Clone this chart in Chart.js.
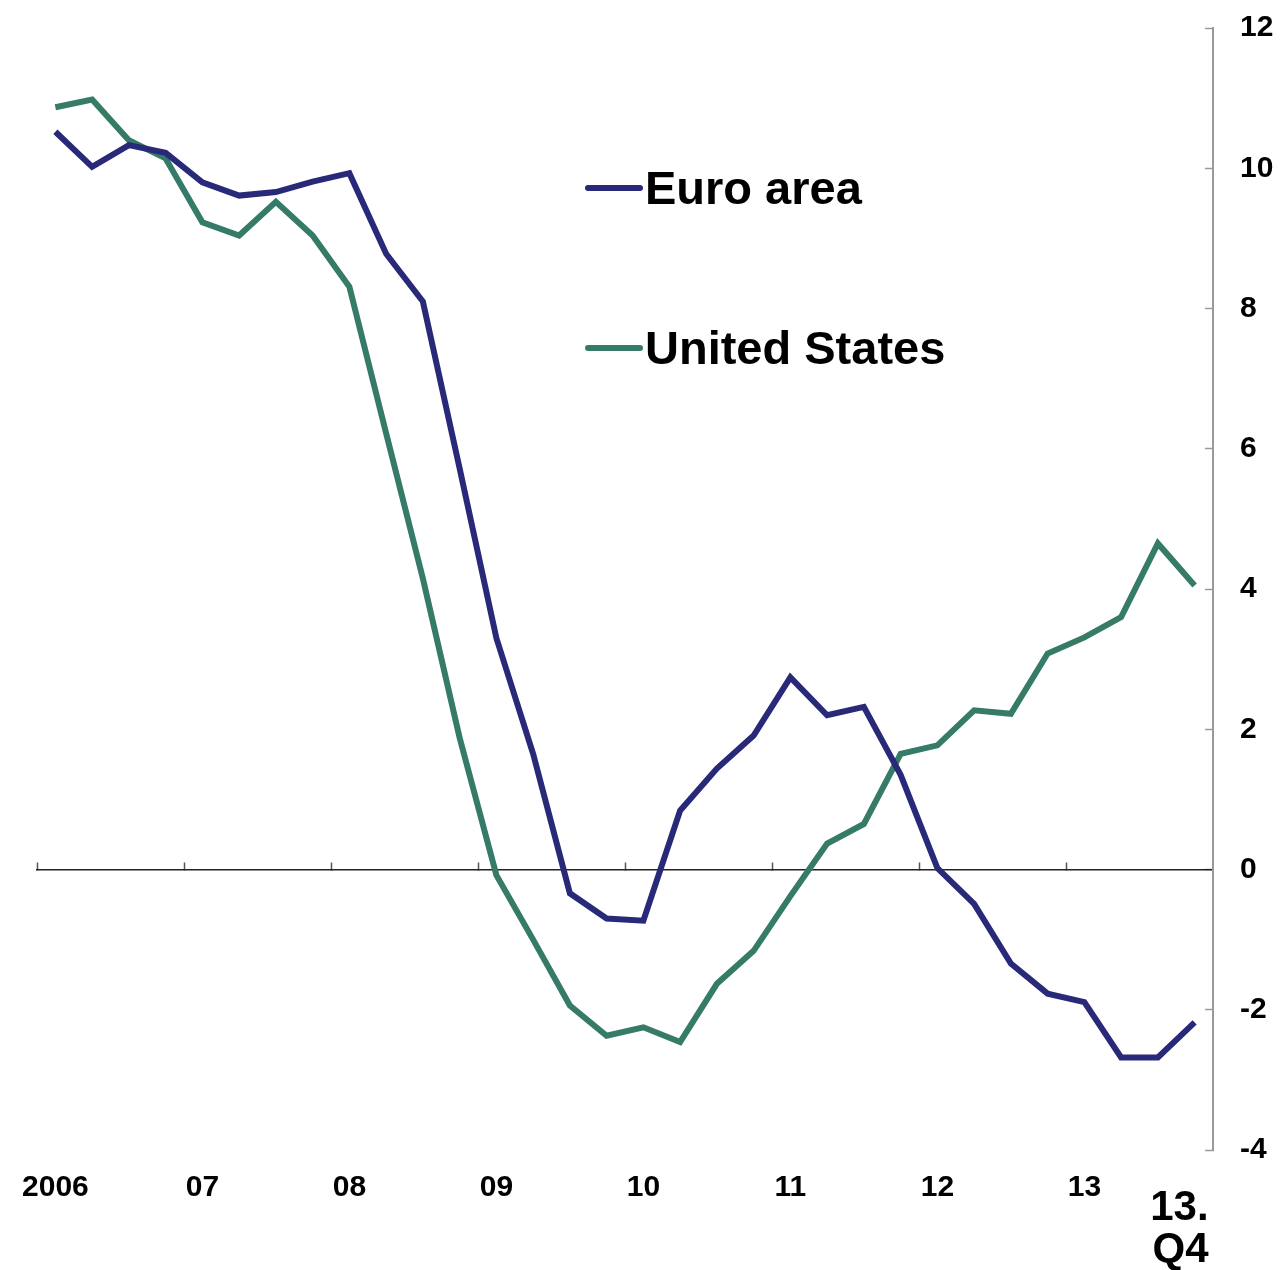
<!DOCTYPE html>
<html>
<head>
<meta charset="utf-8">
<script src="https://cdn.jsdelivr.net/npm/chart.js@4.4.1/dist/chart.umd.min.js"></script>
<style>
  html, body { margin: 0; padding: 0; background: #fff; }
  #wrap { position: relative; width: 1283px; height: 1270px; }
  #legend { position: absolute; left: 585px; top: 0; font-family: 'Liberation Sans', Arial, sans-serif; font-weight: bold; font-size: 47px; color: #000; }
  .item { position: absolute; left: 0; display: flex; align-items: center; white-space: nowrap; height: 54px; line-height: 54px; }
  .swatch { width: 58px; height: 6px; border-radius: 3px; margin-right: 2px; }
</style>
</head>
<body>
<div id="wrap">
  <canvas id="c"></canvas>
  <div id="legend"></div>
</div>
<script>
// ---- Data ----
const quarters = [
  '2006 Q1','2006 Q2','2006 Q3','2006 Q4',
  '2007 Q1','2007 Q2','2007 Q3','2007 Q4',
  '2008 Q1','2008 Q2','2008 Q3','2008 Q4',
  '2009 Q1','2009 Q2','2009 Q3','2009 Q4',
  '2010 Q1','2010 Q2','2010 Q3','2010 Q4',
  '2011 Q1','2011 Q2','2011 Q3','2011 Q4',
  '2012 Q1','2012 Q2','2012 Q3','2012 Q4',
  '2013 Q1','2013 Q2','2013 Q3','2013 Q4'
];
const yearTickLabels = ['2006', '07', '08', '09', '10', '11', '12', '13'];
const endLabel = ['13.', 'Q4'];
const seriesNames = ['Euro area', 'United States'];
const euroArea = [
  10.52, 10.02, 10.33, 10.22,
  9.80, 9.61, 9.66, 9.81,
  9.93, 8.78, 8.10, 5.72,
  3.30, 1.65, -0.34, -0.70,
  -0.73, 0.84, 1.44, 1.91,
  2.74, 2.20, 2.32, 1.35,
  0.02, -0.49, -1.34, -1.77,
  -1.89, -2.68, -2.68, -2.18
];
const unitedStates = [
  10.87, 10.98, 10.40, 10.14,
  9.23, 9.04, 9.52, 9.04,
  8.31, 6.22, 4.15, 1.88,
  -0.08, -1.00, -1.94, -2.37,
  -2.25, -2.46, -1.63, -1.16,
  -0.38, 0.37, 0.65, 1.65,
  1.77, 2.27, 2.22, 3.08,
  3.31, 3.60, 4.65, 4.05
];
const yMin = -4, yMax = 12, yStep = 2;

const colors = ['#29297a', '#367a68'];
const FONT = "'Liberation Sans', Arial, sans-serif";

const endLabelPlugin = {
  id: 'endLabel',
  afterDraw(chart) {
    const xs = chart.scales.x;
    const ctx = chart.ctx;
    const px = xs.getPixelForValue(quarters.length - 1) + 14;
    ctx.save();
    ctx.font = "bold 42px " + FONT;
    ctx.fillStyle = '#000';
    ctx.textAlign = 'right';
    ctx.textBaseline = 'middle';
    ctx.fillText(endLabel[0], px, 1208);
    ctx.fillText(endLabel[1], px, 1250);
    ctx.restore();
  }
};

const chart = new Chart(document.getElementById('c'), {
  type: 'line',
  data: {
    labels: quarters,
    datasets: [
      { label: seriesNames[0], data: euroArea, borderColor: colors[0], backgroundColor: colors[0], borderWidth: 6, pointRadius: 0, tension: 0, xAxisID: 'x', yAxisID: 'y' },
      { label: seriesNames[1], data: unitedStates, borderColor: colors[1], backgroundColor: colors[1], borderWidth: 6, pointRadius: 0, tension: 0, xAxisID: 'x', yAxisID: 'y' }
    ]
  },
  options: {
    responsive: true,
    maintainAspectRatio: false,
    animation: false,
    layout: { padding: { left: 37, top: 28, right: 0, bottom: 0 } },
    plugins: { legend: { display: false }, tooltip: { enabled: false } },
    scales: {
      x: {
        type: 'category',
        position: 'bottom',
        offset: true,
        grid: { display: false, drawTicks: false },
        border: { display: false },
        ticks: {
          autoSkip: false, maxRotation: 0, minRotation: 0,
          padding: 20,
          color: '#000',
          font: { family: FONT, size: 30, weight: 'bold' },
          callback: (v, i) => (i % 4 === 0 ? yearTickLabels[i / 4] : '')
        },
        afterFit: (s) => { s.height = 120; }
      },
      x0: {
        type: 'category',
        position: { y: 0 },
        offset: true,
        grid: {
          offset: true,
          drawOnChartArea: false,
          drawTicks: true,
          tickLength: -8,
          tickWidth: 1.5,
          tickColor: (c) => (c.index % 4 === 0 ? '#555' : 'rgba(0,0,0,0)')
        },
        border: { display: true, color: '#222', width: 1.5 },
        ticks: { display: false }
      },
      y: {
        position: 'right',
        min: yMin, max: yMax,
        grid: { drawOnChartArea: false, drawTicks: true, tickLength: -8, tickColor: '#999', tickWidth: 1.5 },
        border: { display: true, color: '#999', width: 2 },
        ticks: {
          stepSize: yStep,
          padding: 35,
          color: '#000',
          font: { family: FONT, size: 30, weight: 'bold' },
          callback: (v) => String(v)
        },
        afterFit: (s) => { s.width = 70; s.paddingTop = 0; s.paddingBottom = 0; }
      }
    }
  },
  plugins: [endLabelPlugin]
});

// ---- HTML legend built from the datasets ----
const legendEl = document.getElementById('legend');
const legendCenters = [188, 348];
chart.data.datasets.forEach((ds, i) => {
  const item = document.createElement('div');
  item.className = 'item';
  item.style.top = (legendCenters[i] - 27) + 'px';
  const sw = document.createElement('span');
  sw.className = 'swatch';
  sw.style.background = ds.borderColor;
  const tx = document.createElement('span');
  tx.textContent = ds.label;
  item.appendChild(sw);
  item.appendChild(tx);
  legendEl.appendChild(item);
});
</script>
</body>
</html>
